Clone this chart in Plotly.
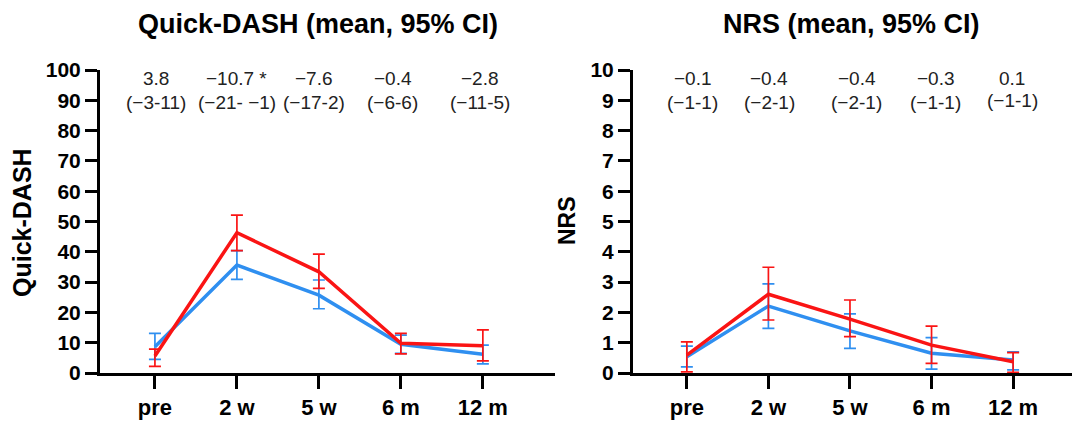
import plotly.graph_objects as go
from plotly.subplots import make_subplots

categories = ["pre", "2 w", "5 w", "6 m", "12 m"]

# Quick-DASH (mean, 95% CI)
dash_blue_mean = [8.7, 35.6, 25.7, 9.5, 6.2]
dash_blue_lo = [4.5, 30.9, 21.2, 6.5, 3.0]
dash_blue_hi = [13.1, 40.4, 30.7, 12.5, 9.2]
dash_red_mean = [5.6, 46.3, 33.4, 9.8, 9.0]
dash_red_lo = [2.2, 40.4, 27.9, 6.3, 4.0]
dash_red_hi = [7.9, 52.1, 39.2, 13.1, 14.2]

# NRS (mean, 95% CI)
nrs_blue_mean = [0.54, 2.21, 1.39, 0.65, 0.43]
nrs_blue_lo = [0.2, 1.47, 0.81, 0.13, 0.1]
nrs_blue_hi = [0.89, 2.94, 1.95, 1.17, 0.7]
nrs_red_mean = [0.59, 2.6, 1.78, 0.92, 0.37]
nrs_red_lo = [0.04, 1.75, 1.2, 0.32, 0.02]
nrs_red_hi = [1.03, 3.49, 2.41, 1.55, 0.67]

dash_diff = ["3.8", "\u221210.7 *", "\u22127.6", "\u22120.4", "\u22122.8"]
dash_ci = ["(\u22123-11)", "(\u221221- \u22121)", "(\u221217-2)", "(\u22126-6)", "(\u221211-5)"]
nrs_diff = ["\u22120.1", "\u22120.4", "\u22120.4", "\u22120.3", "0.1"]
nrs_ci = ["(\u22121-1)", "(\u22122-1)", "(\u22122-1)", "(\u22121-1)", "(\u22121-1)"]

dash_ticks = list(range(0, 101, 10))
nrs_ticks = list(range(0, 11, 1))

BLUE = "#2f8ff0"
RED = "#fa1414"
FONT = "Liberation Sans, Arial, sans-serif"

# the page body keeps an 8px margin, so the figure is 8px smaller than the window
OFF = 8
W, H = 1080 - OFF, 421 - OFF


def fx(px):
    return (px - OFF) / W


def fy(py):
    return 1 - (py - OFF) / H


fig = make_subplots(rows=1, cols=2)


def add_series(mean, lo, hi, color, col):
    fig.add_trace(go.Scatter(
        x=categories, y=mean, mode="lines",
        line=dict(color=color, width=3.5),
        error_y=dict(type="data", symmetric=False,
                     array=[h - m for h, m in zip(hi, mean)],
                     arrayminus=[m - l for m, l in zip(mean, lo)],
                     color=color, thickness=1.7, width=6),
        showlegend=False, cliponaxis=False,
    ), row=1, col=col)


add_series(dash_blue_mean, dash_blue_lo, dash_blue_hi, BLUE, 1)
add_series(dash_red_mean, dash_red_lo, dash_red_hi, RED, 1)
add_series(nrs_blue_mean, nrs_blue_lo, nrs_blue_hi, BLUE, 2)
add_series(nrs_red_mean, nrs_red_lo, nrs_red_hi, RED, 2)

ydom = [fy(373), fy(70)]

fig.update_xaxes(
    type="category", showgrid=False, zeroline=False, automargin=False,
    showline=True, linecolor="black", linewidth=3,
    ticks="outside", ticklen=13, tickwidth=3, tickcolor="black",
    tickfont=dict(family=FONT, size=22, color="black", weight="bold"),
)
fig.update_yaxes(
    showgrid=False, zeroline=False, automargin=False,
    showline=True, linecolor="black", linewidth=3,
    ticks="outside", ticklen=12, tickwidth=3, tickcolor="black",
    tickfont=dict(family=FONT, size=21, color="black", weight="bold"),
    domain=ydom,
)
fig.update_xaxes(domain=[fx(100), fx(555)], range=[-0.67, 4.88], row=1, col=1)
fig.update_xaxes(domain=[fx(633), 1.0], range=[-0.66, 4.82], row=1, col=2)
fig.update_yaxes(range=[0, 100], tickvals=dash_ticks, row=1, col=1)
fig.update_yaxes(range=[0, 10], tickvals=nrs_ticks, row=1, col=2)

fig.update_layout(
    width=W, height=H, autosize=False,
    margin=dict(l=0, r=0, t=0, b=0, pad=0, autoexpand=False),
    paper_bgcolor="white", plot_bgcolor="white",
    font=dict(family=FONT, color="black"),
)


def pa(text, xpx, ypx, size, angle=0):
    return dict(text=text, x=fx(xpx), y=fy(ypx), xref="paper", yref="paper",
                xanchor="center", yanchor="middle", showarrow=False, textangle=angle,
                font=dict(family=FONT, size=size, color="black"))


ann = [
    pa("<b>Quick-DASH (mean, 95% CI)</b>", 318, 24, 27),
    pa("<b>NRS (mean, 95% CI)</b>", 851, 24, 27),
    pa("<b>Quick-DASH</b>", 22, 223, 25, -90),
    pa("<b>NRS</b>", 567, 221, 23, -90),
]

dash_shift = [1, 0, -5, -8, -3]
nrs_shift = [6, 1, 7, 4, -1]
for i, c in enumerate(categories):
    for ref, txts, shifts in (("x", (dash_diff, dash_ci), dash_shift),
                              ("x2", (nrs_diff, nrs_ci), nrs_shift)):
        for j, ypx in enumerate((78, 103)):
            if ref == "x2" and i == 4 and j == 1:
                ypx = 100
            ann.append(dict(text=txts[j][i], x=c, xref=ref, y=fy(ypx), yref="paper",
                            xanchor="center", yanchor="middle",
                            xshift=shifts[i], showarrow=False,
                            font=dict(family=FONT, size=19, color="#222")))

fig.update_layout(annotations=ann)
fig.write_html("out.html")
